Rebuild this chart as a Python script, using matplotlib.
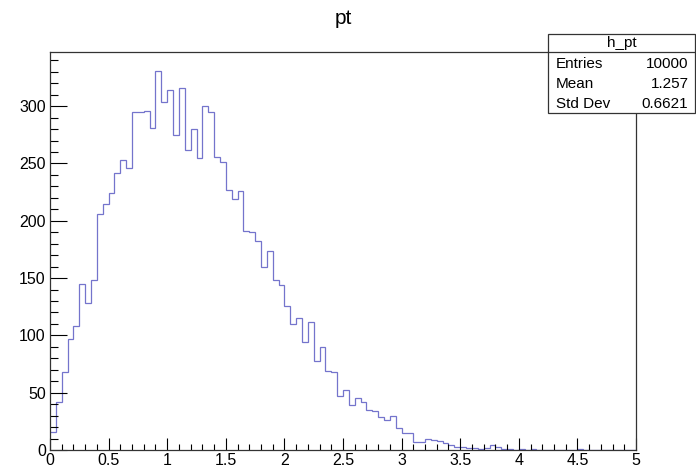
'''
ROOT style histogram: h_pt
'''
import numpy as np
import matplotlib
matplotlib.use("Agg")
import matplotlib.pyplot as plt
from matplotlib.patches import Rectangle
from matplotlib.ticker import MultipleLocator, FuncFormatter


# histogram data (100 bins from 0 to 5)
X_MIN = 0.0
X_MAX = 5.0
N_BINS = 100
counts = [
    16, 42, 68, 97, 108, 145, 128, 148, 206, 215,
    224, 242, 253, 246, 295, 295, 296, 281, 331, 304,
    314, 275, 316, 262, 280, 255, 300, 295, 256, 251,
    227, 219, 226, 191, 190, 182, 160, 174, 148, 144,
    126, 110, 115, 94, 112, 78, 90, 69, 68, 47,
    52, 39, 45, 42, 35, 34, 29, 26, 30, 19,
    15, 15, 7, 7, 10, 9, 8, 6, 4, 3,
    3, 2, 2, 1, 2, 4, 3, 1, 1, 0,
    1, 0, 1, 0, 0, 0, 0, 0, 0, 0,
    1, 0, 0, 0, 0, 0, 0, 0, 0, 0,
]

# stats box
hist_name = "h_pt"
stat_labels = ["Entries", "Mean", "Std Dev"]
stat_values = ["10000", "1.257", "0.6621"]
title = "pt"

plt.rcParams['font.family'] = ['Liberation Sans', 'DejaVu Sans']

fig = plt.figure(figsize=(6.96, 4.69), dpi=100)
ax = fig.add_axes([50 / 696, 1 - 450 / 469, 586 / 696, (450 - 51.7) / 469])

edges = np.linspace(X_MIN, X_MAX, N_BINS + 1)
ax.stairs(counts, edges, color='#7474cc', linewidth=0.9, baseline=None)

ax.set_xlim(X_MIN, X_MAX)
ax.set_ylim(0, max(counts) * 1.05)

# ticks, ROOT like
ax.xaxis.set_major_locator(MultipleLocator(0.5))
ax.xaxis.set_minor_locator(MultipleLocator(0.1))
ax.yaxis.set_major_locator(MultipleLocator(50))
ax.yaxis.set_minor_locator(MultipleLocator(10))
ax.xaxis.set_major_formatter(FuncFormatter(lambda v, p: f"{v:g}"))
ax.tick_params(axis='x', which='major', direction='in', length=8.5, width=0.8,
               labelsize=11.5, pad=2, top=False)
ax.tick_params(axis='x', which='minor', direction='in', length=4.3, width=0.8, top=False)
ax.tick_params(axis='y', which='major', direction='in', length=12, width=0.8,
               labelsize=11.5, pad=3, right=False)
ax.tick_params(axis='y', which='minor', direction='in', length=6, width=0.8, right=False)
for s in ax.spines.values():
    s.set_linewidth(0.9)
    s.set_color('#333333')

# title
fig.text(0.494, 1 - 19 / 469, title, ha='center', va='center', fontsize=15)

# stats box
bx0, bx1 = 548 / 696, 695 / 696
by0, by1 = 1 - 113.3 / 469, 1 - 34.3 / 469
fig.add_artist(Rectangle((bx0, by0), bx1 - bx0, by1 - by0, transform=fig.transFigure,
                         facecolor='white', edgecolor='#333333', linewidth=0.9, zorder=10))
sep_y = 1 - 51.7 / 469
fig.add_artist(plt.Line2D([bx0, bx1], [sep_y, sep_y], transform=fig.transFigure,
                          color='#333333', linewidth=0.9, zorder=11))
fig.text((bx0 + bx1) / 2, 1 - 42.5 / 469, hist_name, ha='center', va='center',
         fontsize=11, zorder=12)
row_y = [64.5, 84.3, 103.7]
for lab, val, yy in zip(stat_labels, stat_values, row_y):
    fig.text(556 / 696, 1 - yy / 469, lab, ha='left', va='center', fontsize=11, zorder=12)
    fig.text(688.5 / 696, 1 - yy / 469, val, ha='right', va='center', fontsize=11, zorder=12)

fig.savefig("out.png", dpi=100)
